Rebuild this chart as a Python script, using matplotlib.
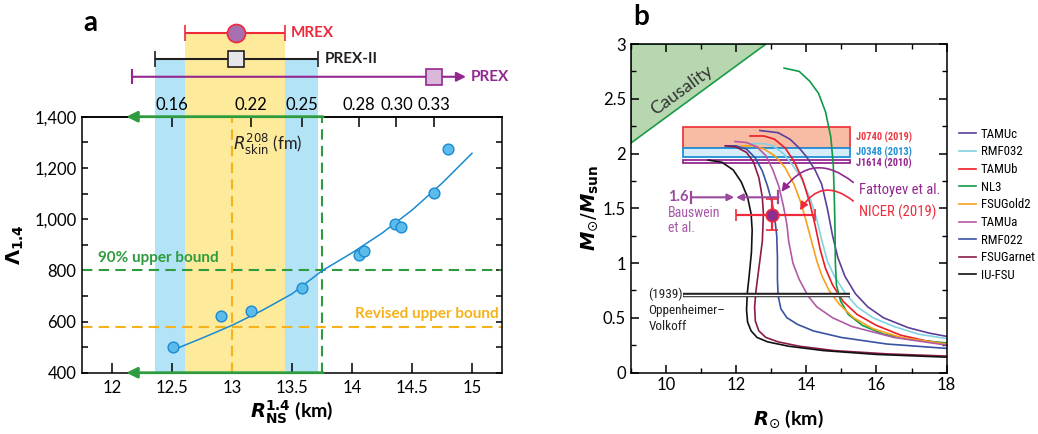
import numpy as np
import matplotlib
matplotlib.use('Agg')
import matplotlib.pyplot as plt
from matplotlib import font_manager
from matplotlib.patches import Polygon, Rectangle, FancyArrowPatch

plt.rcParams['font.family'] = ['Lato', 'DejaVu Sans']
plt.rcParams['mathtext.fontset'] = 'dejavusans'
names = {f.name for f in font_manager.fontManager.ttflist}
NARROW = 'Lato'
for cand in ['Liberation Sans Narrow', 'Roboto Condensed', 'Open Sans Condensed']:
    if cand in names:
        NARROW = cand
        break

# ---------------- panel a data ----------------
r_ns = [12.51, 12.91, 13.155, 13.58, 14.06, 14.10, 14.36, 14.41, 14.68, 14.80]
lam14 = [499, 621, 641, 729, 858, 875, 981, 969, 1103, 1275]
fit_r = [12.52, 12.75, 13.0, 13.25, 13.5, 13.75, 14.0, 14.25, 14.5, 14.75, 15.0]
fit_lam = [491, 535, 585, 643, 708, 798, 868, 945, 1035, 1140, 1257]
skin_pos = [12.5, 13.155, 13.58, 14.06, 14.37, 14.68]
skin_lab = ['0.16', '0.22', '0.25', '0.28', '0.30', '0.33']
# lower, central, upper (in R_NS units)
mrex = (12.61, 13.03, 13.44)
prex2 = (12.36, 13.03, 13.72)
prex = (12.17, 14.68, 14.95)

# ---------------- panel b data ----------------
eos = {
    'TAMUc': ([12.68, 13.2, 13.54, 13.8, 14.01, 14.25, 14.44, 14.6, 14.75, 14.9, 15.1, 15.4, 15.75, 16.2, 16.9, 17.5, 18.0],
              [2.21, 2.19, 2.13, 2.05, 1.97, 1.85, 1.72, 1.5, 1.25, 1.05, 0.88, 0.72, 0.6, 0.5, 0.41, 0.36, 0.33]),
    'RMF032': ([12.40, 12.8, 13.06, 13.35, 13.6, 13.85, 14.1, 14.3, 14.45, 14.6, 14.8, 15.1, 15.45, 15.9, 16.5, 17.2, 18.0],
               [2.09, 2.09, 2.07, 2.0, 1.9, 1.78, 1.6, 1.4, 1.2, 1.02, 0.88, 0.73, 0.6, 0.5, 0.42, 0.35, 0.31]),
    'TAMUb': ([12.40, 12.8, 13.1, 13.4, 13.65, 13.9, 14.1, 14.25, 14.4, 14.55, 14.75, 15.05, 15.45, 16.0, 16.7, 17.4, 18.0],
              [2.16, 2.16, 2.13, 2.05, 1.93, 1.76, 1.55, 1.35, 1.12, 0.95, 0.8, 0.65, 0.53, 0.43, 0.34, 0.29, 0.26]),
    'NL3': ([13.37, 13.8, 14.1, 14.35, 14.55, 14.7, 14.77, 14.8, 14.82, 14.83, 14.86, 14.98, 15.2, 15.6, 16.2, 17.0, 18.0],
            [2.78, 2.75, 2.66, 2.55, 2.38, 2.15, 1.9, 1.6, 1.3, 1.0, 0.8, 0.65, 0.53, 0.43, 0.35, 0.3, 0.27]),
    'FSUGold2': ([12.16, 12.5, 12.8, 13.1, 13.4, 13.65, 13.85, 14.0, 14.15, 14.3, 14.45, 14.65, 14.95, 15.35, 15.9, 16.7, 18.0],
                 [2.07, 2.07, 2.04, 1.98, 1.87, 1.72, 1.55, 1.38, 1.2, 1.02, 0.88, 0.75, 0.62, 0.5, 0.4, 0.32, 0.26]),
    'TAMUa': ([11.97, 12.3, 12.6, 12.85, 13.05, 13.22, 13.35, 13.45, 13.5, 13.62, 13.8, 14.05, 14.3, 14.75, 15.3, 16.5, 18.0],
              [2.11, 2.1, 2.06, 1.98, 1.85, 1.7, 1.52, 1.35, 1.2, 1.0, 0.85, 0.7, 0.6, 0.5, 0.42, 0.32, 0.25]),
    'RMF022': ([11.72, 12.0, 12.3, 12.55, 12.75, 12.9, 13.02, 13.1, 13.16, 13.18, 13.18, 13.2, 13.28, 13.45, 13.75, 14.2, 15.0, 16.3, 18.0],
               [2.07, 2.07, 2.04, 1.96, 1.84, 1.7, 1.56, 1.42, 1.25, 1.05, 0.85, 0.7, 0.58, 0.5, 0.44, 0.38, 0.32, 0.26, 0.22]),
    'FSUGarnet': ([11.69, 12.0, 12.3, 12.5, 12.65, 12.75, 12.78, 12.75, 12.65, 12.57, 12.53, 12.55, 12.65, 12.85, 13.2, 13.8, 14.8, 16.3, 18.0],
                  [2.07, 2.06, 2.01, 1.92, 1.78, 1.6, 1.45, 1.2, 0.95, 0.75, 0.6, 0.47, 0.38, 0.32, 0.28, 0.24, 0.2, 0.17, 0.15]),
    'IU-FSU': ([11.21, 11.6, 11.92, 12.15, 12.33, 12.43, 12.46, 12.44, 12.38, 12.32, 12.3, 12.33, 12.43, 12.6, 12.9, 13.5, 14.5, 16.0, 18.0],
               [1.94, 1.92, 1.85, 1.74, 1.6, 1.45, 1.3, 1.1, 0.9, 0.72, 0.57, 0.46, 0.38, 0.32, 0.28, 0.24, 0.2, 0.165, 0.14]),
}
eos_colors = ['#5b3f99', '#82d3e3', '#ed1c24', '#0f9a48', '#f7a11a',
              '#b35aa6', '#3953a4', '#8b1a4a', '#111111']
pulsars = [('J0740 (2019)', 2.05, 2.24, '#f8bba4', '#ef3a43'),
           ('J0348 (2013)', 1.97, 2.05, '#d5ecf9', '#1f8fd6'),
           ('J1614 (2010)', 1.91, 1.945, 'white', '#93278f')]
nicer = (13.02, 12.0, 14.26, 1.44, 1.30, 1.58)

green = '#2e9b3e'
orange = '#f6b21a'
blue_band = '#b3e3f7'
yellow_band = '#feea9b'
red = '#ee2a3b'
purple = '#93278f'

fig = plt.figure(figsize=(10.38, 4.34), dpi=100)
ax = fig.add_axes([0.079, 0.1412, 0.4046, 0.5899])
bx = fig.add_axes([0.6076, 0.1417, 0.3044, 0.7569])

# ================= panel a =================
ax.set_xlim(11.75, 15.25)
ax.set_ylim(400, 1400)
lvl_mrex, lvl_prex2, lvl_prex = 1727, 1624, 1556
ax.add_patch(Rectangle((prex2[0], 400), prex2[2] - prex2[0], lvl_prex2 - 400,
                       color=blue_band, lw=0, clip_on=False, zorder=0))
ax.add_patch(Rectangle((mrex[0], 400), mrex[2] - mrex[0], lvl_mrex - 400,
                       color=yellow_band, lw=0, clip_on=False, zorder=0))

ax.axhline(800, color=green, lw=1.5, ls=(0, (5, 3)))
ax.axhline(580, color=orange, lw=1.5, ls=(0, (5, 3)))
ax.plot([13.0, 13.0], [400, 1400], color=orange, lw=1.5, ls=(0, (5, 3)))
ax.plot([13.75, 13.75], [400, 1400], color=green, lw=1.5, ls=(0, (5, 3)))
for yy in (1400, 400):
    ax.annotate('', xy=(12.12, yy), xytext=(13.76, yy),
                arrowprops=dict(arrowstyle='-|>', color=green, lw=2,
                                mutation_scale=16, shrinkA=0, shrinkB=0),
                annotation_clip=False, zorder=4)

ax.plot(fit_r, fit_lam, color='#1a8ad1', lw=1.1, zorder=3)
ax.scatter(r_ns, lam14, s=60, color='#5bbcec', edgecolor='#1a8ad1', lw=1, zorder=4)

ax.text(11.88, 850, '90% upper bound', color=green, fontsize=11, fontweight='bold', va='center')
ax.text(15.22, 628, 'Revised upper bound', color=orange, fontsize=11, fontweight='bold',
        va='center', ha='right')
ax.text(13.3, 1290, r'$R^{208}_{\rm skin}$ (fm)', fontsize=12, ha='center', va='center', color='#231f20')

# experiments above the axes
ax.errorbar([mrex[1]], [lvl_mrex], xerr=[[mrex[1] - mrex[0]], [mrex[2] - mrex[1]]],
            fmt='o', ms=13, mfc='#a86fb0', mec=red, mew=1.2, ecolor=red, elinewidth=1.5,
            capsize=6, capthick=1.5, clip_on=False)
ax.errorbar([prex2[1]], [lvl_prex2], xerr=[[prex2[1] - prex2[0]], [prex2[2] - prex2[1]]],
            fmt='s', ms=12, mfc='#e6e7e8', mec='#231f20', mew=1.2, ecolor='#231f20',
            elinewidth=1.5, capsize=6, capthick=1.5, clip_on=False)
ax.annotate('', xy=(prex[2], lvl_prex), xytext=(prex[0], lvl_prex),
            arrowprops=dict(arrowstyle='-|>', color=purple, lw=1.5, mutation_scale=14,
                            shrinkA=0, shrinkB=0), annotation_clip=False)
ax.plot([prex[0], prex[0]], [lvl_prex - 25, lvl_prex + 25], color=purple, lw=1.5, clip_on=False)
ax.plot([prex[1]], [lvl_prex], 's', ms=12, mfc='#d9b8d9', mec=purple, mew=1.2, clip_on=False, zorder=5)
ax.text(13.49, lvl_mrex, 'MREX', color=red, fontsize=11, fontweight='bold', va='center')
ax.text(13.77, lvl_prex2, 'PREX-II', color='#231f20', fontsize=11, fontweight='bold', va='center')
ax.text(14.99, lvl_prex, 'PREX', color=purple, fontsize=11, fontweight='bold', va='center')

ax.set_xticks([12, 12.5, 13, 13.5, 14, 14.5, 15])
ax.set_xticklabels(['12', '12.5', '13', '13.5', '14', '14.5', '15'])
ax.set_yticks([400, 600, 800, 1000, 1200, 1400])
ax.set_yticklabels(['400', '600', '800', '1,000', '1,200', '1,400'])
ax.set_yticks(np.arange(500, 1400, 200), minor=True)
ax.tick_params(axis='x', direction='in', length=7, width=1.1, labelsize=12, pad=5)
ax.tick_params(axis='y', which='both', direction='in', length=4, width=1.1, labelsize=12,
               right=True, pad=4)
sec = ax.secondary_xaxis('top')
sec.set_xticks(skin_pos)
sec.set_xticklabels(skin_lab)
sec.tick_params(direction='in', length=7, width=1.1, labelsize=12, pad=3)
sec.spines['top'].set_linewidth(1.1)
for s in ax.spines.values():
    s.set_linewidth(1.1)
ax.set_xlabel(r'$\mathbfit{R}_{\mathbf{NS}}^{\mathbf{1.4}}$ (km)', fontsize=14, fontweight='bold', labelpad=2)
ax.set_ylabel(r'$\mathbf{\Lambda_{1.4}}$', fontsize=14, labelpad=6)
fig.text(0.087, 0.947, 'a', fontsize=20, fontweight='bold', ha='center', va='center')

# ================= panel b =================
bx.set_xlim(9, 18)
bx.set_ylim(0, 3)
bx.add_patch(Polygon([(9, 2.1), (9, 3), (12.85, 3)], closed=True, facecolor='#b7d7b0',
                     edgecolor='#1a9a48', lw=1.2, zorder=1))
bx.text(10.45, 2.58, 'Causality', rotation=36, fontsize=13, color='#333333', ha='center', va='center')

for name, lo, hi, fc, ec in pulsars:
    bx.add_patch(Rectangle((10.5, lo), 15.26 - 10.5, hi - lo, facecolor=fc, edgecolor=ec, lw=1.3, zorder=1))
    ty = (lo + hi) / 2 if name != 'J1614 (2010)' else lo + 0.0
    bx.text(15.42, ty, name, color=ec, fontsize=7.5, fontweight='bold', family=NARROW, va='center')

for (name, (rr, mm)), c in zip(eos.items(), eos_colors):
    bx.plot(rr, mm, color=c, lw=1.2, label=name, zorder=2)

# Oppenheimer-Volkoff
bx.plot([10.5, 15.25], [0.708, 0.708], color='#231f20', lw=3.2, solid_capstyle='butt', zorder=3)
bx.plot([10.5, 15.25], [0.708, 0.708], color='white', lw=1.0, solid_capstyle='butt', zorder=3)
bx.text(9.5, 0.71, '(1939)', fontsize=9.5, family=NARROW, va='center', color='#231f20')
bx.text(9.5, 0.57, 'Oppenheimer\u2013', fontsize=9.5, family=NARROW, va='center', color='#231f20')
bx.text(9.5, 0.42, 'Volkoff', fontsize=9.5, family=NARROW, va='center', color='#231f20')

# Bauswein
bpur = '#9b4a9e'
bx.text(10.05, 1.6, '1.6', fontsize=10.5, fontweight='bold', color=bpur, va='center')
bx.plot([10.72, 10.72], [1.55, 1.65], color=bpur, lw=1.6)
bx.annotate('', xy=(11.95, 1.6), xytext=(10.72, 1.6),
            arrowprops=dict(arrowstyle='-|>', color=bpur, lw=1.5, mutation_scale=10, shrinkA=0, shrinkB=0))
bx.annotate('', xy=(12.0, 1.6), xytext=(13.21, 1.6),
            arrowprops=dict(arrowstyle='-|>', color=bpur, lw=1.5, mutation_scale=10, shrinkA=0, shrinkB=0))
bx.plot([13.21, 13.21], [1.55, 1.66], color=bpur, lw=1.6)
bx.text(10.05, 1.46, 'Bauswein', fontsize=10, family=NARROW, color='#a85aa8', va='center')
bx.text(10.05, 1.32, 'et al.', fontsize=10, family=NARROW, color='#a85aa8', va='center')

# NICER point
nx, nxl, nxh, ny, nyl, nyh = nicer
bx.errorbar([nx], [ny], xerr=[[nx - nxl], [nxh - nx]], yerr=[[ny - nyl], [nyh - ny]],
            fmt='o', ms=9, mfc='#8e2f8f', mec=red, mew=1.2, ecolor=red, elinewidth=1.6,
            capsize=4, capthick=1.6, zorder=5)

bx.add_patch(FancyArrowPatch((15.4, 1.72), (13.25, 1.63), connectionstyle='arc3,rad=0.55',
                             arrowstyle='-|>', mutation_scale=12, color=purple, lw=1.2, zorder=6))
bx.add_patch(FancyArrowPatch((15.4, 1.55), (13.78, 1.46), connectionstyle='arc3,rad=0.6',
                             arrowstyle='-|>', mutation_scale=12, color=red, lw=1.2, zorder=6))
bx.text(15.5, 1.67, 'Fattoyev et al.', fontsize=10.5, family=NARROW, color=purple, va='center')
bx.text(15.5, 1.46, 'NICER (2019)', fontsize=10.5, family=NARROW, color=red, va='center')

bx.set_xticks([10, 12, 14, 16, 18])
bx.set_xticks(np.arange(9, 18.1, 1), minor=True)
bx.set_yticks([0, 0.5, 1, 1.5, 2, 2.5, 3])
bx.set_yticklabels(['0', '0.5', '1', '1.5', '2', '2.5', '3'])
bx.set_yticks(np.arange(0.25, 3, 0.5), minor=True)
bx.tick_params(which='major', direction='in', length=6, width=1.1, labelsize=12,
               top=True, right=True)
bx.tick_params(which='minor', direction='in', length=3.5, width=1.0, top=True, right=True)
for s in bx.spines.values():
    s.set_linewidth(1.1)
bx.set_xlabel(r'$\mathbfit{R}_{\odot}$ (km)', fontsize=14, fontweight='bold', labelpad=10)
bx.set_ylabel(r'$\mathbfit{M}_{\odot}/\mathbfit{M}_{\mathbf{sun}}$', fontsize=14, labelpad=2)
leg = bx.legend(loc='upper left', bbox_to_anchor=(1.04, 0.745), frameon=False,
                handlelength=1.3, handletextpad=0.35, labelspacing=0.36, borderaxespad=0,
                borderpad=0, prop={'family': NARROW, 'size': 9.3})
fig.text(0.618, 0.96, 'b', fontsize=20, fontweight='bold', ha='center', va='center')

fig.savefig('out.png', dpi=100)
